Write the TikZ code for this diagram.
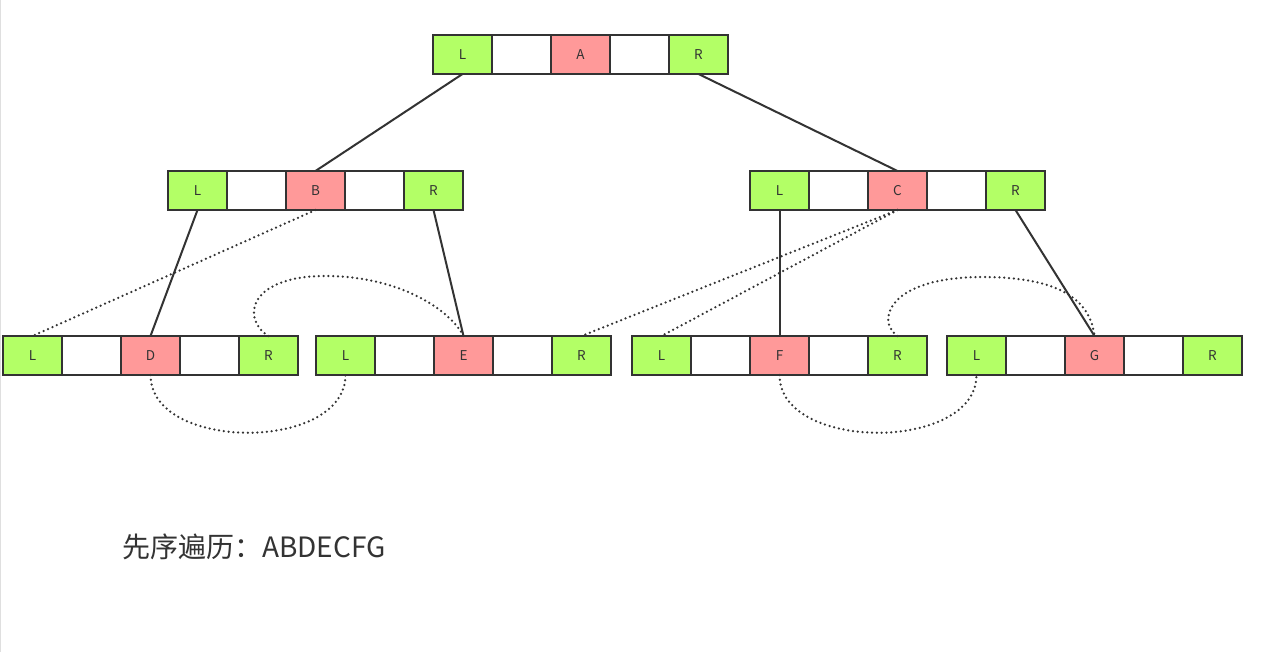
\documentclass[tikz,border=0pt]{standalone}
\usepackage{fontspec}
\setmainfont{Noto Sans CJK SC}
\usetikzlibrary{positioning}
\definecolor{lgreen}{HTML}{B3FF66}
\definecolor{lred}{HTML}{FF9999}
\definecolor{edge}{HTML}{333333}
\tikzset{
  cell/.style={draw=edge, line width=2pt, minimum width=59pt, minimum height=39pt,
    inner sep=0pt, outer sep=0pt, font=\fontsize{13.5}{13.5}\selectfont, text=edge},
  gcell/.style={cell, fill=lgreen},
  rcell/.style={cell, fill=lred},
  wcell/.style={cell, fill=white},
  solidlink/.style={draw=edge, line width=2pt},
  dotlink/.style={draw=edge, line width=2.5pt, line cap=round, dash pattern=on 0pt off 4.8pt}
}
\newcommand\bnrow[4]{%
  \node[gcell] (#1L) at (#2,#3) {L};
  \node[wcell, right=0pt of #1L] (#1a) {};
  \node[rcell, right=0pt of #1a] (#1M) {#4};
  \node[wcell, right=0pt of #1M] (#1b) {};
  \node[gcell, right=0pt of #1b] (#1R) {R};
}
\begin{document}
\begin{tikzpicture}[x=1pt,y=-1pt]
\useasboundingbox[fill=white] (0,0) rectangle (1261,652);
\draw[gray!25, line width=1pt] (0.5,0) -- (0.5,652);
\bnrow{A}{462.5}{54.5}{A}
\bnrow{B}{197.5}{190.5}{B}
\bnrow{C}{779.5}{190.5}{C}
\bnrow{D}{32.5}{355.5}{D}
\bnrow{E}{345.5}{355.5}{E}
\bnrow{F}{661.5}{355.5}{F}
\bnrow{G}{976.5}{355.5}{G}
% solid links
\draw[solidlink] (AL.south) -- (BM.north);
\draw[solidlink] (AR.south) -- (CM.north);
\draw[solidlink] (BL.south) -- (DM.north);
\draw[solidlink] (BR.south) -- (EM.north);
\draw[solidlink] (CL.south) -- (FM.north);
\draw[solidlink] (CR.south) -- (GM.north);
% dotted threads
\draw[dotlink] (BM.south) -- (DL.north);
\draw[dotlink] (CM.south) -- (ER.north);
\draw[dotlink] (CM.south) -- (FL.north);
\coordinate (topDE) at (325,276);
\coordinate (topFG) at (982,277);
\draw[dotlink] (DR.north) .. controls (240,318) and (250,276) .. (topDE)
  .. controls (400,276) and (450,310) .. (EM.north);
\draw[dotlink] (DM.south) .. controls (150.5,452) and (345.5,452) .. (EL.south);
\draw[dotlink] (FR.north) .. controls (875,320) and (890,277) .. (topFG)
  .. controls (1060,277) and (1090,300) .. (GM.north);
\draw[dotlink] (FM.south) .. controls (779.5,452) and (976.5,452) .. (GL.south);
% caption
\node[anchor=west, text=edge, font=\fontsize{28}{28}\selectfont, inner sep=0pt] (cap) at (122,547) {先序遍历：ABDECFG};
\end{tikzpicture}
\end{document}
